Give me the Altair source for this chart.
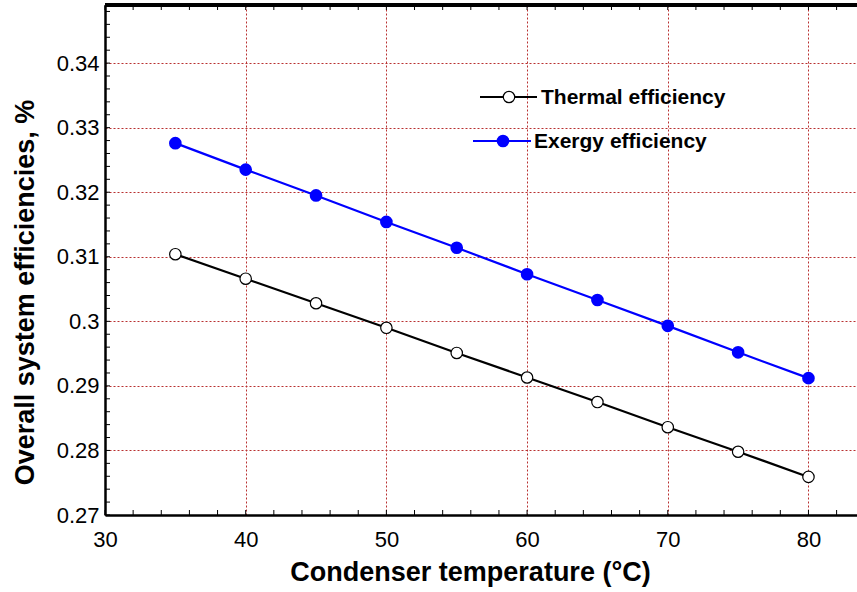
import altair as alt
import pandas as pd

# Condenser temperature (°C) and the two efficiency curves
temps = [35, 40, 45, 50, 55, 60, 65, 70, 75, 80]
thermal = [0.3104, 0.3066, 0.3028, 0.2990, 0.2951, 0.2913, 0.2875, 0.2836, 0.2798, 0.2759]
exergy = [0.3276, 0.3235, 0.3195, 0.3154, 0.3114, 0.3073, 0.3033, 0.2993, 0.2952, 0.2912]

legend_labels = ["Thermal efficiency", "Exergy efficiency"]

x_major = [30, 40, 50, 60, 70, 80]
y_major = [0.27, 0.28, 0.29, 0.30, 0.31, 0.32, 0.33, 0.34]
x_minor = list(range(30, 84, 2))
y_minor = [round(0.27 + 0.002 * i, 3) for i in range(40)]

FONT = "Liberation Sans"
W, H = 752, 510
GRID = "#b83030"

df = pd.DataFrame({"T": temps, "thermal": thermal, "exergy": exergy})
df_xt = pd.DataFrame({"v": x_minor})
df_yt = pd.DataFrame({"v": y_minor})

xs = alt.Scale(domain=[30, 83.45], nice=False, zero=False)
ys = alt.Scale(domain=[0.27, 0.349], nice=False, zero=False)

x_axis = alt.Axis(
    values=x_major, format="d", title="Condenser temperature (°C)",
    grid=True, gridColor=GRID, gridDash=[2, 2], gridWidth=1,
    ticks=False, tickSize=0, domainColor="black", domainWidth=2.5,
    labelFont=FONT, labelFontSize=22, labelColor="black", labelFlush=False,
    labelBaseline="alphabetic", labelPadding=31,
    titleFont=FONT, titleFontSize=27, titleFontWeight="bold", titleColor="black",
    titleBaseline="alphabetic", titleAlign="center", titleX=365, titleY=65,
)
y_axis = alt.Axis(
    values=y_major, format="~g", title="Overall system efficiencies, %",
    grid=True, gridColor=GRID, gridDash=[2, 2], gridWidth=1,
    ticks=False, tickSize=0, domainColor="black", domainWidth=2.5,
    labelFont=FONT, labelFontSize=22, labelColor="black", labelPadding=6,
    labelFlush=False,
    titleFont=FONT, titleFontSize=27, titleFontWeight="bold", titleColor="black",
    titleBaseline="alphabetic", titleAlign="center", titleAngle=270,
    titleX=-72, titleY=287,
)


def X(field):
    return alt.X(field, type="quantitative", scale=xs, axis=x_axis)


def Y(field):
    return alt.Y(field, type="quantitative", scale=ys, axis=y_axis)


base = alt.Chart(df)

thermal_line = base.mark_line(color="black", strokeWidth=2.2).encode(x=X("T"), y=Y("thermal"))
thermal_pts = base.mark_point(
    shape="circle", filled=True, fill="white", stroke="black",
    strokeWidth=1.2, size=130, opacity=1
).encode(x=X("T"), y=Y("thermal"))

exergy_line = base.mark_line(color="#0000ff", strokeWidth=2.2).encode(x=X("T"), y=Y("exergy"))
exergy_pts = base.mark_circle(color="#0000ff", size=160, opacity=1).encode(x=X("T"), y=Y("exergy"))

# inward ticks on left, bottom and top edges
y_ticks = alt.Chart(df_yt).mark_rule(color="black", strokeWidth=1).encode(
    y=Y("v"), x=alt.value(0), x2=alt.value(5))
x_ticks_bottom = alt.Chart(df_xt).mark_rule(color="black", strokeWidth=1).encode(
    x=X("v"), y=alt.value(H), y2=alt.value(H - 5))
x_ticks_top = alt.Chart(df_xt).mark_rule(color="black", strokeWidth=1).encode(
    x=X("v"), y=alt.value(0), y2=alt.value(5))
top_border = alt.Chart(df_xt).mark_rule(color="black", strokeWidth=3).encode(
    x=alt.value(0), x2=alt.value(W), y=alt.value(0))

# legend drawn inside the plot
def legend_entry(label, x0, x1, y, cx, tx, line_color, point_mark):
    d = alt.Chart(pd.DataFrame({"label": [label]}))
    ln = d.mark_rule(color=line_color, strokeWidth=2.2).encode(
        x=alt.value(x0), x2=alt.value(x1), y=alt.value(y))
    pt = d.mark_point(**point_mark).encode(x=alt.value(cx), y=alt.value(y))
    tx_ = d.mark_text(align="left", baseline="middle", font=FONT, fontSize=21,
                      fontWeight="bold", color="black").encode(
        x=alt.value(tx), y=alt.value(y + 1), text="label:N")
    return [ln, pt, tx_]


leg1 = legend_entry(legend_labels[0], 375, 432, 92, 404, 436, "black",
                    dict(shape="circle", filled=True, fill="white", stroke="black",
                         strokeWidth=1.2, size=130, opacity=1))
leg2 = legend_entry(legend_labels[1], 368, 426, 136, 398, 429, "#0000ff",
                    dict(shape="circle", filled=True, color="#0000ff", size=160, opacity=1))

chart = alt.layer(
    y_ticks, x_ticks_bottom, x_ticks_top, top_border,
    thermal_line, exergy_line, thermal_pts, exergy_pts,
    *leg1, *leg2,
).properties(
    width=W, height=H,
    padding={"left": 105, "top": 5, "right": 0, "bottom": 77},
    autosize=alt.AutoSizeParams(type="none"),
    background="white",
).configure_view(stroke=None)

chart.save("out.html", embed_options={"renderer": "svg", "actions": False})
